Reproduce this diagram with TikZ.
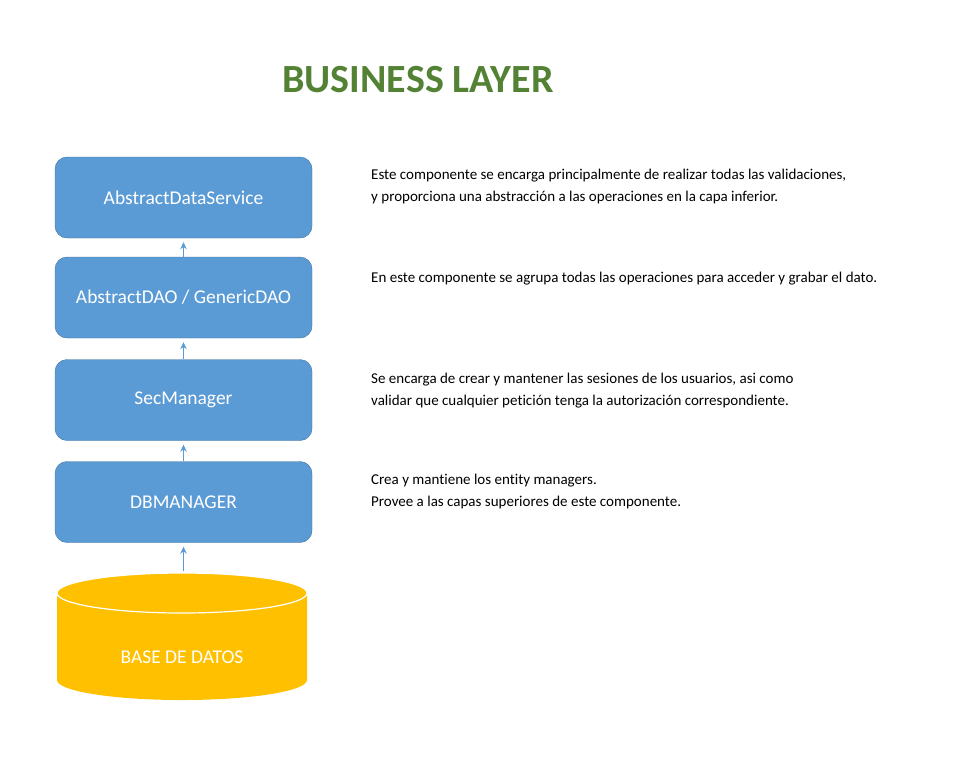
\documentclass[tikz,border=0pt]{standalone}
\usepackage{fontspec}
\setmainfont[Ligatures=NoCommon]{Carlito}
\usetikzlibrary{arrows.meta}
\definecolor{layerblue}{HTML}{5B9BD5}
\definecolor{layerline}{HTML}{41719C}
\definecolor{dbyellow}{HTML}{FFC000}
\definecolor{titlegreen}{HTML}{548235}

\begin{document}
\begin{tikzpicture}[x=1pt,y=-1pt]
    \useasboundingbox (0,0) rectangle (973,761);

    \node[font=\fontsize{40}{46}\selectfont\bfseries,text=titlegreen,anchor=base] (title) at (418,92) {BUSINESS LAYER};

    \begin{scope}[every node/.style={rectangle,rounded corners=12pt,draw=layerline,fill=layerblue,text=white,
        minimum width=257pt,minimum height=81pt,font=\fontsize{19.5}{23}\selectfont}]
      \node (ads) at (183.5,197.5) {AbstractDataService};
      \node (dao) at (183.5,297.5) {AbstractDAO / GenericDAO};
      \node (sec) at (183.5,400) {SecManager};
      \node (dbm) at (183.5,502) {DBMANAGER};
    \end{scope}

    % base de datos
    \fill[dbyellow] (57,593) -- (57,680) arc[start angle=180,end angle=360,x radius=125pt,y radius=20pt]
      -- (307,593) arc[start angle=0,end angle=180,x radius=125pt,y radius=20pt] -- cycle;
    \draw[white,line width=1.2pt] (182,593) ellipse[x radius=125pt,y radius=20pt];
    \node[text=white,font=\fontsize{19.5}{23}\selectfont] (db) at (182,657) {BASE DE DATOS};
    \coordinate (dbtop) at (183.5,571);

    \begin{scope}[>={Stealth[length=7pt,width=6.5pt]},
        every edge/.style={draw=layerblue,line width=1pt,->,shorten >=4pt}]
      \path (dao.north) edge (ads.south);
      \path (sec.north) edge (dao.south);
      \path (dbm.north) edge (sec.south);
      \path (dbtop) edge (dbm.south);
    \end{scope}

    % the base anchor sits on the last line
    \begin{scope}[every node/.style={anchor=base west,align=left,inner sep=0pt,font=\fontsize{15}{21.5}\selectfont}]
      \node (adsnote) at (371,201) {Este componente se encarga principalmente de realizar todas las validaciones,\\
        y proporciona una abstracción a las operaciones en la capa inferior.};
      \node (daonote) at (371,282) {En este componente se agrupa todas las operaciones para acceder y grabar el dato.};
      \node (secnote) at (371,405) {Se encarga de crear y mantener las sesiones de los usuarios, asi como\\
        validar que cualquier petición tenga la autorización correspondiente.};
      \node (dbmnote) at (371,506) {Crea y mantiene los entity managers.\\
        Provee a las capas superiores de este componente.};
    \end{scope}
\end{tikzpicture}
\end{document}
